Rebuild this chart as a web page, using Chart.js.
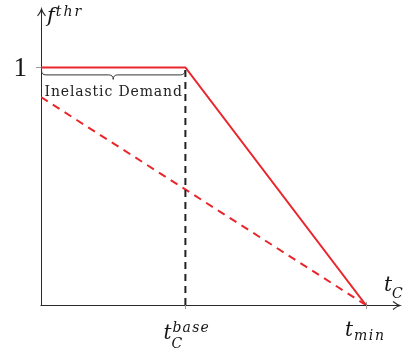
<!DOCTYPE html>
<html>
<head>
<meta charset="utf-8">
<script src="https://cdn.jsdelivr.net/npm/chart.js@4/dist/chart.umd.min.js"></script>
<style>
  html, body { margin: 0; padding: 0; background: #fff; }
  #wrap { width: 409px; height: 352px; }
</style>
</head>
<body>
<div id="wrap"><canvas id="c" width="409" height="352"></canvas></div>
<script>
// Threshold f^thr as a function of the cycle time t_C
const tBase = 4;          // t_C^base
const tMin = 9;           // t_min
const xAxisMax = 10;
const yAxisMax = 1.25;

// Piecewise threshold: flat (inelastic) up to t_C^base, then linear to zero at t_min
const solidX = [0, tBase, tMin];
const solidY = [1, 1, 0];

// Purely linear alternative
const dashedX = [0, tMin];
const dashedY = [0.875, 0];

// Vertical marker at t_C^base
const markerX = [tBase, tBase];
const markerY = [0, 1];

// Axis ticks and their labels
const xTickValues = [tBase, tMin];
const xTickLabels = [
  { base: 't', sub: 'C', sup: 'base' },
  { base: 't', sub: 'min', sup: '' }
];
const yTickValues = [1];
const yTickLabels = ['1'];

const xAxisTitle = { base: 't', sub: 'C', sup: '' };
const yAxisTitle = { base: 'f', sub: '', sup: 'thr' };
const braceLabel = 'Inelastic Demand';

const pts = (xs, ys) => xs.map((x, i) => ({ x, y: ys[i] }));

const RED = '#e8262b';
const AXIS = '#2a2a2a';
const SERIF = '"DejaVu Serif", "Liberation Serif", serif';

function mathFont(size) { return 'italic ' + size + 'px ' + SERIF; }

// Draws text one glyph at a time with extra spacing between glyphs
function spaced(ctx, text, x, y, gap) {
  let cx = x;
  for (const ch of text) {
    ctx.fillText(ch, cx, y);
    cx += ctx.measureText(ch).width + gap;
  }
  return cx - gap - x;
}

// Math label: italic base with optional subscript / superscript
function drawMath(ctx, lab, x, baseline, o) {
  ctx.fillStyle = '#151515';
  ctx.textAlign = 'left';
  ctx.textBaseline = 'alphabetic';
  ctx.font = mathFont(o.size);
  const wb = ctx.measureText(lab.base).width;
  ctx.fillText(lab.base, x, baseline);
  ctx.font = mathFont(o.small);
  const sx = x + wb + (o.pad || 0);
  if (lab.sub) spaced(ctx, lab.sub, sx - (o.subBack || 0), baseline + o.subDy, o.gap);
  if (lab.sup) spaced(ctx, lab.sup, sx, baseline - o.supDy, o.gap);
}

function arrowHead(ctx, x, y, dir) {
  ctx.save();
  ctx.translate(x, y);
  if (dir === 'up') ctx.rotate(-Math.PI / 2);
  ctx.beginPath();
  ctx.moveTo(-7, -4);
  ctx.quadraticCurveTo(-3, -0.8, 0, 0);
  ctx.quadraticCurveTo(-3, 0.8, -7, 4);
  ctx.lineWidth = 1.1;
  ctx.strokeStyle = AXIS;
  ctx.stroke();
  ctx.restore();
}

const decorations = {
  id: 'decorations',
  beforeDatasetsDraw(chart) {
    const { ctx } = chart;
    const xs = chart.scales.x, ys = chart.scales.y;
    const x0 = xs.getPixelForValue(0), y0 = ys.getPixelForValue(0);
    const xEnd = xs.getPixelForValue(xAxisMax) - 2;
    const yEnd = ys.getPixelForValue(yAxisMax) + 1;
    ctx.save();
    ctx.strokeStyle = AXIS;
    ctx.lineWidth = 1;
    ctx.beginPath();
    ctx.moveTo(x0 - 0.5, y0 + 0.5);
    ctx.lineTo(xEnd, y0 + 0.5);
    ctx.moveTo(x0 + 0.5, y0 + 0.5);
    ctx.lineTo(x0 + 0.5, yEnd);
    ctx.stroke();
    arrowHead(ctx, xEnd, y0 + 0.5, 'right');
    arrowHead(ctx, x0 + 0.5, yEnd, 'up');
    // tick marks
    ctx.strokeStyle = '#9a9a9a';
    ctx.beginPath();
    xTickValues.forEach(v => {
      const px = Math.round(xs.getPixelForValue(v)) + 0.5;
      ctx.moveTo(px, y0 - 3);
      ctx.lineTo(px, y0 + 4);
    });
    yTickValues.forEach(v => {
      const py = Math.round(ys.getPixelForValue(v)) + 0.5;
      ctx.moveTo(x0 - 5, py);
      ctx.lineTo(x0 + 2, py);
    });
    ctx.stroke();
    ctx.restore();
  },
  afterDatasetsDraw(chart) {
    const { ctx } = chart;
    const xs = chart.scales.x, ys = chart.scales.y;
    const x0 = xs.getPixelForValue(0), y0 = ys.getPixelForValue(0);
    ctx.save();
    // y tick label
    ctx.fillStyle = '#151515';
    ctx.font = '27px "Liberation Serif", "DejaVu Serif", serif';
    ctx.textAlign = 'right';
    ctx.textBaseline = 'alphabetic';
    yTickValues.forEach((v, i) => {
      ctx.fillText(yTickLabels[i], x0 - 14, ys.getPixelForValue(v) + 9);
    });
    // x tick labels
    const tickStyle = [
      { dx: -22, dy: 339, o: { size: 20, small: 14, subDy: 9, supDy: 7, gap: 1.2, pad: 1, subBack: 1 } },
      { dx: -21, dy: 336, o: { size: 20, small: 14, subDy: 4, supDy: 7, gap: 1.6, pad: 1, subBack: 0 } }
    ];
    xTickValues.forEach((v, i) => {
      const s = tickStyle[i];
      drawMath(ctx, xTickLabels[i], xs.getPixelForValue(v) + s.dx, s.dy, s.o);
    });
    // axis titles
    drawMath(ctx, xAxisTitle, xs.getPixelForValue(xAxisMax) - 18, y0 - 14,
      { size: 20, small: 14, subDy: 7, supDy: 7, gap: 1, pad: 0 });
    drawMath(ctx, yAxisTitle, x0 + 6, ys.getPixelForValue(yAxisMax) + 14,
      { size: 21, small: 14, subDy: 4, supDy: 6, gap: 2, pad: 1 });

    // brace under the flat segment
    const bx1 = x0 + 0.5, bx2 = xs.getPixelForValue(tBase) - 0.5;
    const by = ys.getPixelForValue(1) + 3;
    const mid = (bx1 + bx2) / 2;
    const h = 4.5;
    ctx.strokeStyle = '#333';
    ctx.lineWidth = 1;
    ctx.beginPath();
    ctx.moveTo(bx1, by);
    ctx.quadraticCurveTo(bx1, by + h, bx1 + h, by + h);
    ctx.lineTo(mid - h, by + h);
    ctx.quadraticCurveTo(mid, by + h, mid, by + h * 2);
    ctx.quadraticCurveTo(mid, by + h, mid + h, by + h);
    ctx.lineTo(bx2 - h, by + h);
    ctx.quadraticCurveTo(bx2, by + h, bx2, by);
    ctx.stroke();

    // brace label, spread across the brace
    ctx.font = '14px ' + SERIF;
    ctx.fillStyle = '#222';
    ctx.textAlign = 'left';
    ctx.textBaseline = 'alphabetic';
    const target = bx2 - bx1 - 6;
    const w = ctx.measureText(braceLabel).width;
    const gap = Math.max(0, (target - w) / (braceLabel.length - 1));
    spaced(ctx, braceLabel, mid - target / 2, ys.getPixelForValue(1) + 29, gap);
    ctx.restore();
  }
};

new Chart(document.getElementById('c'), {
  type: 'line',
  data: {
    datasets: [
      {
        data: pts(markerX, markerY),
        borderColor: '#222',
        borderWidth: 2,
        borderDash: [7, 5],
        pointRadius: 0
      },
      {
        data: pts(dashedX, dashedY),
        borderColor: RED,
        borderWidth: 2,
        borderDash: [8, 6],
        pointRadius: 0
      },
      {
        data: pts(solidX, solidY),
        borderColor: RED,
        borderWidth: 2,
        pointRadius: 0
      }
    ]
  },
  options: {
    responsive: false,
    animation: false,
    layout: { padding: { left: 41, right: 7, top: 8, bottom: 47 } },
    plugins: { legend: { display: false }, tooltip: { enabled: false } },
    scales: {
      x: { type: 'linear', min: 0, max: xAxisMax, display: false },
      y: { type: 'linear', min: 0, max: yAxisMax, display: false }
    },
    elements: { line: { tension: 0, fill: false } }
  },
  plugins: [decorations]
});
</script>
</body>
</html>
